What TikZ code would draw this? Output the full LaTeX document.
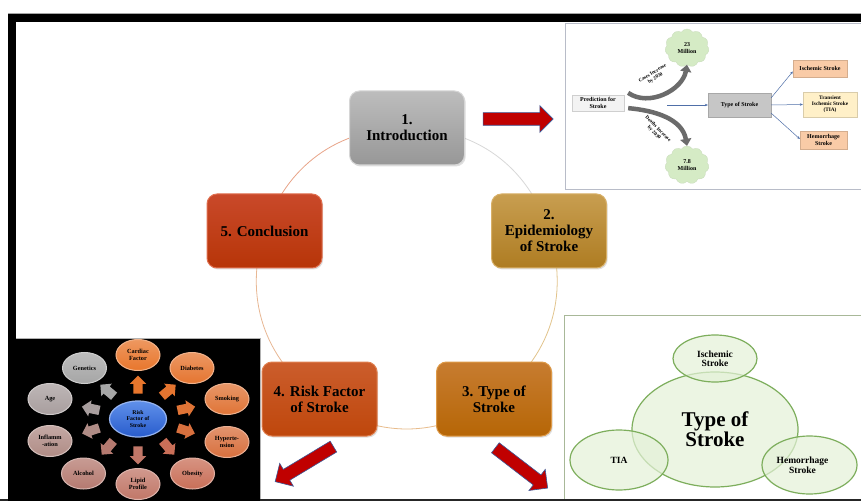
\documentclass[tikz,border=0pt]{standalone}
\usepackage{fontspec}
\setmainfont{Liberation Serif}
\usetikzlibrary{shapes.geometric,shapes.arrows,shapes.symbols,shadows,backgrounds,arrows.meta}
\definecolor{introtop}{HTML}{BDBDBD}\definecolor{introbot}{HTML}{979797}\definecolor{introedge}{HTML}{D6D6D6}
\definecolor{conctop}{HTML}{C9492A}\definecolor{concbot}{HTML}{B73508}\definecolor{concedge}{HTML}{E07050}
\definecolor{epitop}{HTML}{C89E50}\definecolor{epibot}{HTML}{AE7C22}\definecolor{epiedge}{HTML}{D8B068}
\definecolor{risktop}{HTML}{CB5D2C}\definecolor{riskbot}{HTML}{BF470C}\definecolor{riskedge}{HTML}{E08050}
\definecolor{typetop}{HTML}{C77C30}\definecolor{typebot}{HTML}{B66606}\definecolor{typeedge}{HTML}{DE9A48}
\definecolor{arrred}{HTML}{C00000}\definecolor{arrblue}{HTML}{3B5998}
\definecolor{predfill}{HTML}{F3F3F3}\definecolor{tosfill}{HTML}{C6C6C6}
\definecolor{peach}{HTML}{F9CBA7}\definecolor{cream}{HTML}{FFF0C8}
\definecolor{cloudg}{HTML}{D5EBC5}\definecolor{blueln}{HTML}{4F6FA8}
\definecolor{panelgray}{HTML}{B8BCC8}\definecolor{panelgreen}{HTML}{A8B898}
\definecolor{rcard}{HTML}{E8762C}\definecolor{rdiab}{HTML}{E57530}\definecolor{rsmok}{HTML}{E07436}
\definecolor{rhyp}{HTML}{D8703E}\definecolor{robe}{HTML}{C96F58}\definecolor{rlip}{HTML}{C17768}
\definecolor{ralc}{HTML}{B57A70}\definecolor{rinf}{HTML}{B08C86}\definecolor{rage}{HTML}{A89E9E}
\definecolor{rgen}{HTML}{A6A6A6}
\definecolor{tsgreen}{HTML}{E4F1D8}\definecolor{tsline}{HTML}{7DAE5C}
\definecolor{arcA}{HTML}{E8A488}\definecolor{arcB}{HTML}{E8B894}\definecolor{arcC}{HTML}{E8BC8C}
\definecolor{arcD}{HTML}{E2C48C}\definecolor{arcE}{HTML}{D8D8D8}
\definecolor{rcblue1}{HTML}{6090EA}\definecolor{rcblue2}{HTML}{285CCC}\definecolor{rcblue3}{HTML}{96B4F0}
\begin{document}
\begin{tikzpicture}[x=1pt,y=1pt,
  mainbox/.style n args={3}{rounded corners=10pt, minimum width=115pt, minimum height=74pt,
    align=center, inner sep=2pt, font=\bfseries\fontsize{15}{16}\selectfont,
    top color=#1, bottom color=#2, draw=#3, line width=1pt,
    drop shadow={opacity=0.25, shadow xshift=1.2pt, shadow yshift=-1.5pt}},
  redarrow/.style={single arrow, single arrow head extend=7pt,
    inner sep=0pt, fill=arrred, draw=arrblue, line width=0.6pt},
  insettxt/.style={font=\bfseries\fontsize{6}{6.8}\selectfont, align=center, inner sep=0pt},
  lbltxt/.style={font=\bfseries\fontsize{5}{5.6}\selectfont, align=center, inner sep=0pt},
  ibox/.style={insettxt, fill=#1, draw=#1!85!black, line width=0.3pt,
    drop shadow={opacity=0.3, shadow xshift=1pt, shadow yshift=-1pt}},
  cloudn/.style={cloud, cloud puffs=11, cloud puff arc=115, aspect=1.15, fill=cloudg,
    draw=cloudg!85!gray, line width=0.3pt, minimum width=44pt, minimum height=38pt, insettxt},
  grayarrow/.style={line width=4.5pt, draw=black!58, -{Triangle[length=7pt,width=11pt]}},
  bluearrow/.style={draw=blueln, line width=0.5pt, -{Stealth[length=3pt,width=2.5pt]}},
  rf/.style={ellipse, minimum width=44pt, minimum height=31pt, inner sep=0pt, align=center,
    font=\bfseries\fontsize{6.3}{6.8}\selectfont, top color=#1!75!white, bottom color=#1,
    draw=#1!55!white, line width=1pt},
  rfa/.style={single arrow, single arrow head extend=3.5pt,
    minimum height=18pt, inner sep=0pt, fill=#1},
  tsel/.style={ellipse, fill=tsgreen, fill opacity=0.7, text opacity=1, draw=tsline,
    line width=1.2pt, align=center, inner sep=0pt, font=\bfseries\fontsize{9.5}{8.5}\selectfont},
  cyc/.style={line width=0.8pt, draw=#1}
]
\useasboundingbox (0,0) rectangle (861,501);
\begin{pgfonlayer}{background}
\fill[white] (0,0) rectangle (861,501);
% frame
\fill[black] (8,479) rectangle (861,487);
\fill[black] (8,0) rectangle (16,487);
\draw[black!35, line width=0.6pt] (8,487.3) -- (861,487.3);
\fill[black!85] (0,0) rectangle (861,2.5);
\end{pgfonlayer}
% panels
\fill[black] (8,0) rectangle (260,163);
\draw[black!30, line width=0.6pt] (16,163) -- (260,163) -- (260,2.5);
\draw[fill=white, draw=panelgray, line width=1pt] (565,311) rectangle (875,477);
\draw[draw=panelgreen, line width=1pt] (564,2.5) -- (564,186) -- (875,186);

% ---- main cycle ----
\node[mainbox={introtop}{introbot}{introedge}] (intro) at (407,373) {1.\\Introduction};
\node[mainbox={conctop}{concbot}{concedge}] (concl) at (264.5,270) {5. Conclusion};
\node[mainbox={epitop}{epibot}{epiedge}] (epi) at (549,270) {2.\\Epidemiology\\of Stroke};
\node[mainbox={risktop}{riskbot}{riskedge}] (risk) at (319.5,102) {4. Risk Factor\\of Stroke};
\node[mainbox={typetop}{typebot}{typeedge}] (type) at (494,102) {3. Type of\\Stroke};
\begin{pgfonlayer}{background}
\draw[cyc=arcA] (intro.center) to[bend right=36] (concl.center);
\draw[cyc=arcB] (concl.center) to[bend right=36] (risk.center);
\draw[cyc=arcC] (risk.center) to[bend right=36] (type.center);
\draw[cyc=arcD] (type.center) to[bend right=36] (epi.center);
\draw[cyc=arcE] (epi.center) to[bend right=36] (intro.center);
\end{pgfonlayer}

% red arrows
\node[redarrow, minimum height=70pt] (a1) at (515,382) {\rule{0pt}{12pt}};
\node[redarrow, minimum height=68pt, rotate=211] (a4) at (307,38.5) {\rule{0pt}{12pt}};
\node[redarrow, minimum height=66pt, rotate=-37.6] (a3) at (519,35) {\rule{0pt}{12pt}};

% ---- top-right inset ----
\node[ibox=predfill, minimum width=52pt, minimum height=16pt] (pred) at (598,398) {Prediction for\\Stroke};
\node[cloudn] (c23) at (687,453) {23\\Million};
\node[cloudn] (c78) at (687,336) {7.8\\Million};
\draw[grayarrow] ([xshift=4pt,yshift=2pt]pred.north east) to[out=-35,in=-100] (c23.south);
\draw[grayarrow] ([xshift=4pt,yshift=3pt]pred.south east) to[out=-5,in=100] (c78.north);
\node[lbltxt, rotate=32] (lc) at (654,425) {Cases Increase\\by 2030};
\node[lbltxt, rotate=-45] (ld) at (656,370) {Deaths Increase\\by 2030};
\node[ibox=tosfill, minimum width=63pt, minimum height=24pt] (tos) at (739.5,396) {Type of Stroke};
\coordinate (bst) at (667,396);
\draw[bluearrow] (bst) -- (tos.west);
\node[ibox=peach, minimum width=54pt, minimum height=17pt] (isch) at (820,432.5) {Ischemic Stroke};
\node[ibox=cream, minimum width=54pt, minimum height=25pt, font=\bfseries\fontsize{5.3}{6.2}\selectfont] (tia) at (830,396.5) {Transient\\Ischemic Stroke\\(TIA)};
\node[ibox=peach, minimum width=47pt, minimum height=18pt] (hem) at (823.5,361) {Hemorrhage\\Stroke};
\draw[bluearrow] ([yshift=-5pt]tos.north east) -- ([yshift=-3pt]isch.west);
\draw[bluearrow] (tos.east) -- (tia.west);
\draw[bluearrow] ([yshift=4pt]tos.south east) -- ([yshift=1pt]hem.west);

% ---- bottom-left risk factor panel ----
\node[ellipse, minimum width=57pt, minimum height=36pt, inner sep=0pt, align=center,
  top color=rcblue1, bottom color=rcblue2, draw=rcblue3, line width=1.2pt,
  font=\bfseries\fontsize{5.8}{6.2}\selectfont] (rc) at (138,82) {Risk\\Factor of\\Stroke};
\node[rf=rcard] (card) at (138,146) {Cardiac\\Factor};
\node[rf=rdiab] (diab) at (192,133) {Diabetes};
\node[rf=rsmok] (smok) at (227,102) {Smoking};
\node[rf=rhyp] (hyp) at (227,59) {Hyperte-\\nsion};
\node[rf=robe] (obe) at (192.5,27.5) {Obesity};
\node[rf=rlip] (lip) at (138,17) {Lipid\\Profile};
\node[rf=ralc] (alc) at (83.5,27.5) {Alcohol};
\node[rf=rinf] (inf) at (50,60) {Inflamm\\-ation};
\node[rf=rage] (age) at (50,102) {Age};
\node[rf=rgen] (gen) at (84.5,133) {Genetics};
\node[rfa=rcard, rotate=90] (ra1) at (138,114) {\rule{0pt}{9pt}};
\node[rfa=rdiab, rotate=40] (ra2) at (167,109) {\rule{0pt}{9pt}};
\node[rfa=rsmok, rotate=12] (ra3) at (184,92) {\rule{0pt}{9pt}};
\node[rfa=rhyp, rotate=-18] (ra4) at (184,71) {\rule{0pt}{9pt}};
\node[rfa=robe, rotate=-50] (ra5) at (167,55) {\rule{0pt}{9pt}};
\node[rfa=rlip, rotate=-90] (ra6) at (138,48) {\rule{0pt}{9pt}};
\node[rfa=ralc, rotate=-130] (ra7) at (109,55) {\rule{0pt}{9pt}};
\node[rfa=rinf, rotate=-162] (ra8) at (93,71) {\rule{0pt}{9pt}};
\node[rfa=rage, rotate=168] (ra9) at (93,92) {\rule{0pt}{9pt}};
\node[rfa=rgen, rotate=140] (ra10) at (109,109) {\rule{0pt}{9pt}};

% ---- bottom-right type of stroke panel ----
\node[tsel, minimum width=166pt, minimum height=115pt, font=\bfseries\fontsize{21}{18}\selectfont] (big) at (715,71.5) {Type of\\Stroke};
\node[tsel, minimum width=84pt, minimum height=47pt] (ischb) at (715,142.5) {Ischemic\\Stroke};
\node[tsel, minimum width=98pt, minimum height=60pt] (tiab) at (619,41) {TIA};
\node[tsel, minimum width=95pt, minimum height=58pt] (hemb) at (809.5,36) {\hspace*{-14pt}Hemorrhage\\\hspace*{-14pt}Stroke};
\end{tikzpicture}
\end{document}
